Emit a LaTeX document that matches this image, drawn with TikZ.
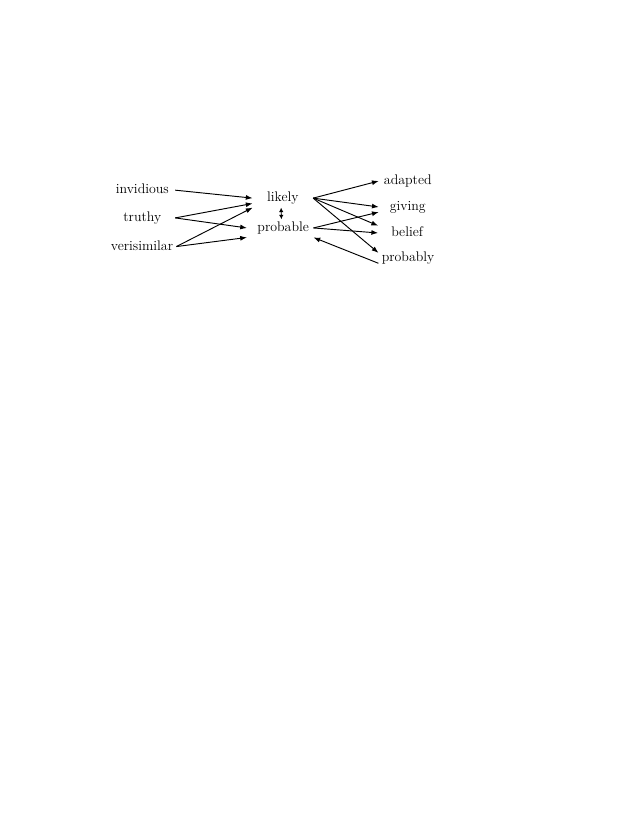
\documentclass[tikz,border=0pt]{standalone}
\usepackage{tikz}
\usetikzlibrary{calc,arrows.meta}
\tikzset{
	word/.style={inner sep=3pt, text height=9.3pt, text depth=2.6pt, font=\fontsize{13.4pt}{16pt}\selectfont},
	leftword/.style={word, minimum width=63pt},
	midword/.style={word, minimum width=58pt},
	rightword/.style={word, minimum width=55.6pt},
	link/.style={line width=0.9pt, -{Latex[length=6.5pt,width=4.8pt]}},
	twoway/.style={line width=0.9pt, {Latex[length=4.3pt,width=4.3pt]}-{Latex[length=4.3pt,width=4.3pt]}}
}

\begin{document}
\begin{tikzpicture}
		%%%%% START %%%%%
		
		\useasboundingbox (0, 0) rectangle (21.59, -27.94);
		
		\node[leftword] (invidious) at (4.82, -6.44) {invidious};
		\node[leftword] (truthy) at (4.82, -7.38) {truthy};
		\node[leftword] (verisimilar) at (4.81, -8.35) {verisimilar};
		
		\node[midword] (likely) at (9.58, -6.71) {likely};
		\node[midword] (probable) at (9.59, -7.72) {probable};
		
		\node[rightword] (adapted) at (13.81, -6.13) {adapted};
		\node[rightword] (giving) at (13.81, -7.01) {giving};
		\node[rightword] (belief) at (13.79, -7.89) {belief};
		\node[rightword] (probably) at (13.82, -8.74) {probably};
		
		\draw[link] (invidious.east) -- (likely.west);
		\draw[link] (truthy.east) -- (likely.190);
		\draw[link] (truthy.east) -- ([xshift=-0.2cm]probable.west);
		\draw[link] (verisimilar.east) -- (likely.south west);
		\draw[link] (verisimilar.east) -- ([xshift=-0.2cm]probable.south west);
		
		\draw[twoway] ([xshift=-0.06cm]likely.south) -- ([xshift=-0.06cm, yshift=-0.03cm]probable.north);
		
		\draw[link] (likely.east) -- (adapted.west);
		\draw[link] (likely.east) -- (giving.west);
		\draw[link] (likely.east) -- (belief.166);
		\draw[link] (likely.east) -- (probably.170);
		\draw[link] (probable.east) -- (giving.190);
		\draw[link] (probable.east) -- (belief.west);
		\draw[link] (probably.190) -- (probable.south east);
		
		%%%%% END %%%%%
\end{tikzpicture}
\end{document}
